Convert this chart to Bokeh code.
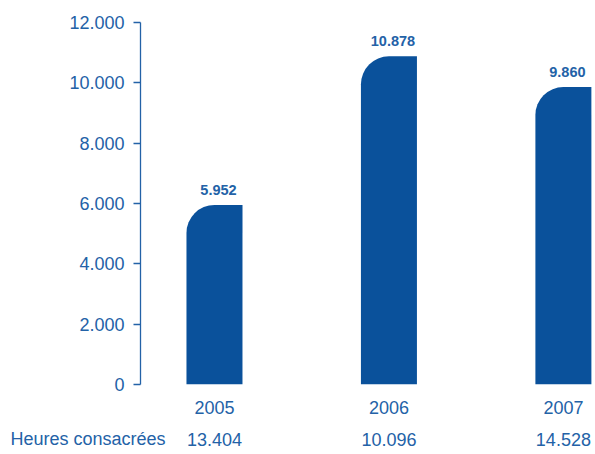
from bokeh.plotting import figure
from bokeh.models import Range1d, LinearAxis, FixedTicker, Title
from bokeh.core.properties import value
from bokeh.embed import file_html
from bokeh.resources import INLINE

years = ["2005", "2006", "2007"]
values = [5952, 10878, 9860]
value_labels = ["5.952", "10.878", "9.860"]
hours = ["13.404", "10.096", "14.528"]
hours_title = "Heures consacrées"
y_ticks = [0, 2000, 4000, 6000, 8000, 10000, 12000]

BAR = "#0A519B"
TXT = "#2362A7"
FONT = "Liberation Sans"

xs = list(range(len(years)))

p = figure(width=595, height=454, output_backend="svg", toolbar_location=None,
           x_range=Range1d(-0.424, 2.184), y_range=Range1d(0, 12000),
           min_border_left=140, min_border_right=0, min_border_top=22,
           min_border_bottom=70, x_axis_type=None, y_axis_type=None)
p.outline_line_color = None
p.xgrid.visible = False
p.ygrid.visible = False
p.background_fill_color = "white"
p.border_fill_color = "white"

# y axis
yax = LinearAxis(ticker=FixedTicker(ticks=y_ticks), bounds=(0, 12000))
yax.major_label_overrides = {t: f"{t:,}".replace(",", ".") for t in y_ticks}
yax.axis_line_color = TXT
yax.axis_line_width = 1.3
yax.major_tick_line_color = TXT
yax.major_tick_line_width = 1.3
yax.major_tick_out = 7
yax.major_tick_in = 0
yax.minor_tick_out = 0
yax.minor_tick_in = 0
yax.major_label_standoff = 9
yax.major_label_text_font = FONT
yax.major_label_text_font_size = "18px"
yax.major_label_text_color = TXT
p.add_layout(yax, "left")

# year axis
xax = LinearAxis(ticker=FixedTicker(ticks=xs))
xax.major_label_overrides = {i: y for i, y in enumerate(years)}
xax.axis_line_color = None
xax.major_tick_line_color = None
xax.minor_tick_line_color = None
xax.major_tick_out = 0
xax.major_label_standoff = 16
xax.major_label_text_font = FONT
xax.major_label_text_font_size = "18px"
xax.major_label_text_color = TXT
p.add_layout(xax, "below")

# hours axis
hax = LinearAxis(ticker=FixedTicker(ticks=xs))
hax.major_label_overrides = {i: h for i, h in enumerate(hours)}
hax.axis_line_color = None
hax.major_tick_line_color = None
hax.minor_tick_line_color = None
hax.major_tick_out = 0
hax.major_label_standoff = 16
hax.major_label_text_font = FONT
hax.major_label_text_font_size = "18px"
hax.major_label_text_color = TXT
p.add_layout(hax, "below")

# row title, placed on the hours line
rt = Title(text=hours_title, align="left", offset=-130, standoff=-40,
           vertical_align="top", text_font=FONT, text_font_size="18px",
           text_font_style="normal", text_color=TXT)
p.add_layout(rt, "below")

p.vbar(x=xs, top=values, width=0.321, fill_color=BAR, line_color=None,
       border_radius=(28, 0, 0, 0))

p.text(x=xs, y=values, text=value_labels, x_offset=4, y_offset=-15,
       text_align="center", text_baseline="middle",
       text_font=value(FONT), text_font_style="bold",
       text_font_size="14.5px", text_color=TXT)

open("out.html", "w").write(file_html(p, INLINE))
